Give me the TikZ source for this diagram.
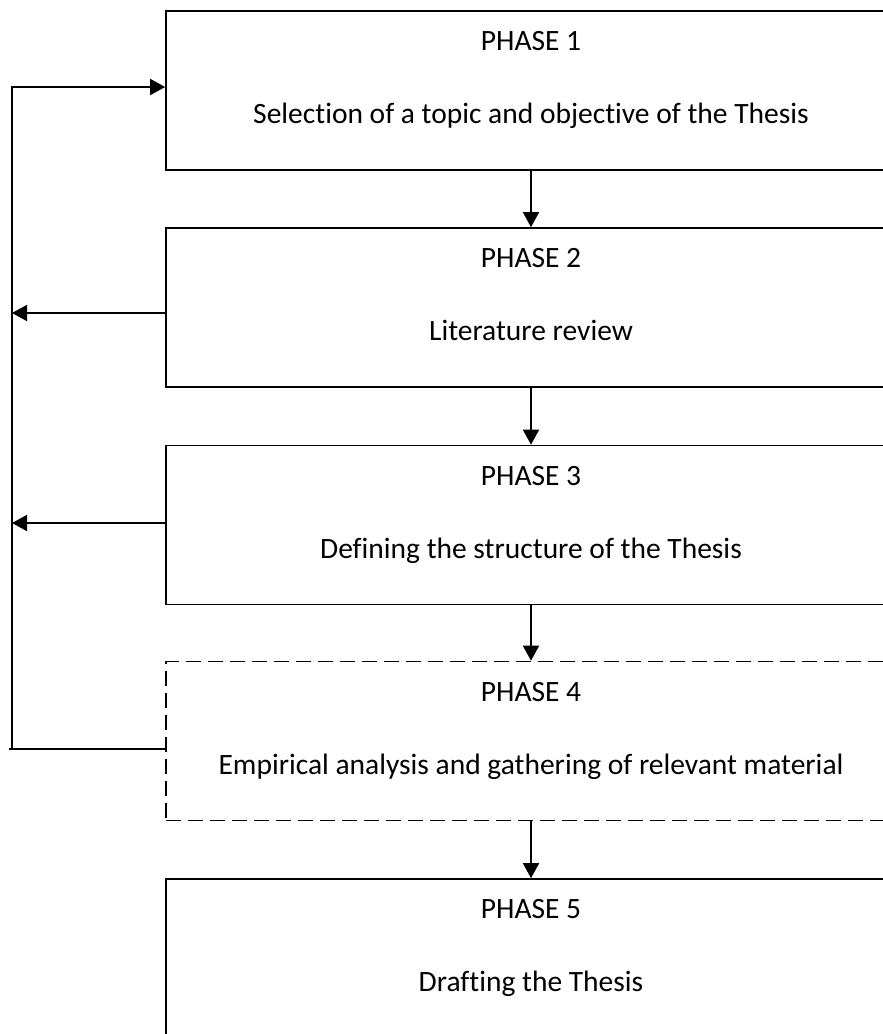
\documentclass[tikz,border=0pt]{standalone}
\usepackage{fontspec}
\setmainfont{Carlito}[Ligatures=NoCommon]
\usetikzlibrary{arrows.meta}
\tikzset{
  phasebox/.style={draw, line width=1.6pt, minimum width=730pt, minimum height=159pt, inner sep=0pt},
  dashbox/.style={phasebox, dash pattern=on 15pt off 7pt},
  lbl/.style={anchor=base, inner sep=0pt, font=\fontsize{29.5}{35}\selectfont},
  conn/.style={line width=1.6pt},
  arr/.style={conn, -{Triangle[length=15pt,width=16pt]}}
}
\begin{document}
\begin{tikzpicture}[x=1pt,y=-1pt]
\useasboundingbox (0,0) rectangle (883,1034);
\begin{scope}
\clip (0,0) rectangle (883,1034);
\node[phasebox] (b1) at (531,90.5) {};
\node[phasebox] (b2) at (531,307.5) {};
\node[phasebox] (b3) at (531,525) {};
\node[dashbox]  (b4) at (531,741) {};
\node[phasebox] (b5) at (531,958.5) {};
\end{scope}

\node[lbl] (p1) at (531,50) {PHASE 1};
\node[lbl] (t1) at (531,123) {Selection of a topic and objective of the Thesis};
\node[lbl] (p2) at (531,267) {PHASE 2};
\node[lbl] (t2) at (531,340) {Literature review};
\node[lbl] (p3) at (531,485) {PHASE 3};
\node[lbl] (t3) at (531,558) {Defining the structure of the Thesis};
\node[lbl] (p4) at (531,701) {PHASE 4};
\node[lbl] (t4) at (531,774) {Empirical analysis and gathering of relevant material};
\node[lbl] (p5) at (531,918) {PHASE 5};
\node[lbl] (t5) at (531,991) {Drafting the Thesis};

\draw[arr] (b1.south) -- (b2.north);
\draw[arr] (b2.south) -- (b3.north);
\draw[arr] (b3.south) -- (b4.north);
\draw[arr] (b4.south) -- (b5.north);

\coordinate (ltop) at (12,87);
\coordinate (lbot) at (12,749);
\coordinate (f2) at (12,313);
\coordinate (f3) at (12,523);
\coordinate (f4) at (9,749);
\draw[arr] (lbot) -- (ltop) -- (b1.west |- ltop);
\draw[arr] (b2.west |- f2) -- (f2);
\draw[arr] (b3.west |- f3) -- (f3);
\draw[conn] (b4.west |- f4) -- (f4);
\end{tikzpicture}
\end{document}
